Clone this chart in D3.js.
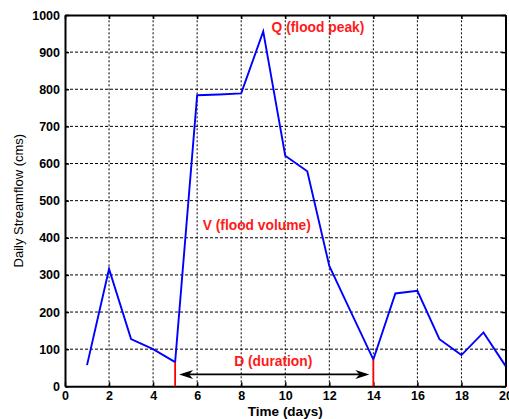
<!DOCTYPE html>
<html>
<head>
<meta charset="utf-8">
<script src="https://cdn.jsdelivr.net/npm/d3@7"></script>
<style>
  body { margin: 0; background: #fff; }
  svg { display: block; font-family: "Liberation Sans", Arial, sans-serif; }
</style>
</head>
<body>
<script>
// daily streamflow values
const days = [1, 2, 3, 4, 5, 6, 7, 8, 9, 10, 11, 12, 13, 14, 15, 16, 17, 18, 19, 20];
const flow = [57, 316, 127, 100, 65, 784, 786, 789, 956, 621, 579, 324, 198, 72, 250, 257, 127, 84, 145, 55];

const xTicks = [0, 2, 4, 6, 8, 10, 12, 14, 16, 18, 20];
const yTicks = [0, 100, 200, 300, 400, 500, 600, 700, 800, 900, 1000];

// start / end of the flood
const floodStart = 5;
const floodEnd = 14;

const w = 509, h = 419;
const margin = {top: 15, right: 3.5, bottom: 32.7, left: 65};

const svg = d3.select('body').append('svg')
  .attr('width', w)
  .attr('height', h);

const x = d3.scaleLinear().domain([0, 20]).range([margin.left, w - margin.right]);
const y = d3.scaleLinear().domain([0, 1000]).range([h - margin.bottom, margin.top]);

// grid
svg.append('g').selectAll('line')
  .data(xTicks.slice(1, -1))
  .enter().append('line')
  .attr('x1', d => x(d)).attr('x2', d => x(d))
  .attr('y1', y(0)).attr('y2', y(1000))
  .attr('stroke', '#000').attr('stroke-width', 1)
  .attr('stroke-dasharray', '2,2');

svg.append('g').selectAll('line')
  .data(yTicks.slice(1, -1))
  .enter().append('line')
  .attr('x1', x(0)).attr('x2', x(20))
  .attr('y1', d => y(d)).attr('y2', d => y(d))
  .attr('stroke', '#000').attr('stroke-width', 1)
  .attr('stroke-dasharray', '3,2');

// axes (ticks pointing inward, like matlab)
const xAxis = d3.axisBottom(x).tickValues(xTicks).tickFormat(d3.format('d'))
  .tickSizeInner(-4).tickSizeOuter(0).tickPadding(5);
const yAxis = d3.axisLeft(y).tickValues(yTicks).tickFormat(d3.format('d'))
  .tickSizeInner(-4).tickSizeOuter(0).tickPadding(5);

svg.append('g')
  .attr('transform', `translate(0, ${y(0)})`)
  .call(xAxis);
svg.append('g')
  .attr('transform', `translate(${x(0)}, 0)`)
  .call(yAxis);

svg.append('g')
  .attr('transform', `translate(0, ${y(1000)})`)
  .call(d3.axisTop(x).tickValues(xTicks).tickSizeInner(-4).tickSizeOuter(0).tickFormat(''));
svg.append('g')
  .attr('transform', `translate(${x(20)}, 0)`)
  .call(d3.axisRight(y).tickValues(yTicks).tickSizeInner(-4).tickSizeOuter(0).tickFormat(''));

svg.selectAll('.domain').attr('stroke', '#000').attr('stroke-width', 2);
svg.selectAll('.tick line').attr('stroke', '#000').attr('stroke-width', 1.5);
svg.selectAll('.tick text')
  .style('font-size', '12.5px')
  .style('font-weight', 'bold')
  .attr('fill', '#000');

// axis labels
svg.append('text')
  .attr('x', (x(0) + x(20)) / 2)
  .attr('y', 415.5)
  .attr('text-anchor', 'middle')
  .style('font-size', '13.5px')
  .style('font-weight', 'bold')
  .text('Time (days)');

svg.append('text')
  .attr('transform', `translate(23, ${(y(0) + y(1000)) / 2}) rotate(-90)`)
  .attr('text-anchor', 'middle')
  .style('font-size', '13px')
  .text('Daily Streamflow (cms)');

// hydrograph
const line = d3.line()
  .x((d, i) => x(days[i]))
  .y(d => y(d));

svg.append('path')
  .datum(flow)
  .attr('d', line)
  .attr('fill', 'none')
  .attr('stroke', '#0000ff')
  .attr('stroke-width', 1.9)
  .attr('stroke-linejoin', 'miter');

// red markers for flood start and end
[floodStart, floodEnd].forEach(day => {
  const v = flow[days.indexOf(day)];
  svg.append('line')
    .attr('x1', x(day)).attr('x2', x(day))
    .attr('y1', y(0)).attr('y2', y(v))
    .attr('stroke', '#ff0000')
    .attr('stroke-width', 1.8);
});

// double arrow for duration
const arrowY = y(32);
const ax1 = x(floodStart + 0.18), ax2 = x(floodEnd - 0.18);
svg.append('line')
  .attr('x1', ax1 + 4).attr('x2', ax2 - 4)
  .attr('y1', arrowY).attr('y2', arrowY)
  .attr('stroke', '#000').attr('stroke-width', 1.8);

function arrowHead(tipX, dir) {
  const len = 14, half = 4.5, notch = 4;
  const p = [
    [tipX, arrowY],
    [tipX + dir * len, arrowY - half],
    [tipX + dir * (len - notch), arrowY],
    [tipX + dir * len, arrowY + half]
  ];
  svg.append('path')
    .attr('d', 'M' + p.map(q => q.join(',')).join('L') + 'Z')
    .attr('fill', '#000');
}
arrowHead(ax1, 1);
arrowHead(ax2, -1);

// annotations
const red = '#ff1a1a';
function note(txt, day, val) {
  svg.append('text')
    .attr('x', x(day))
    .attr('y', y(val))
    .attr('fill', red)
    .style('font-size', '13.8px')
    .style('font-weight', 'bold')
    .text(txt);
}
note('Q (flood peak)', 9.38, 953);
note('V (flood volume)', 6.25, 421);
note('D (duration)', 7.68, 55);
</script>
</body>
</html>
